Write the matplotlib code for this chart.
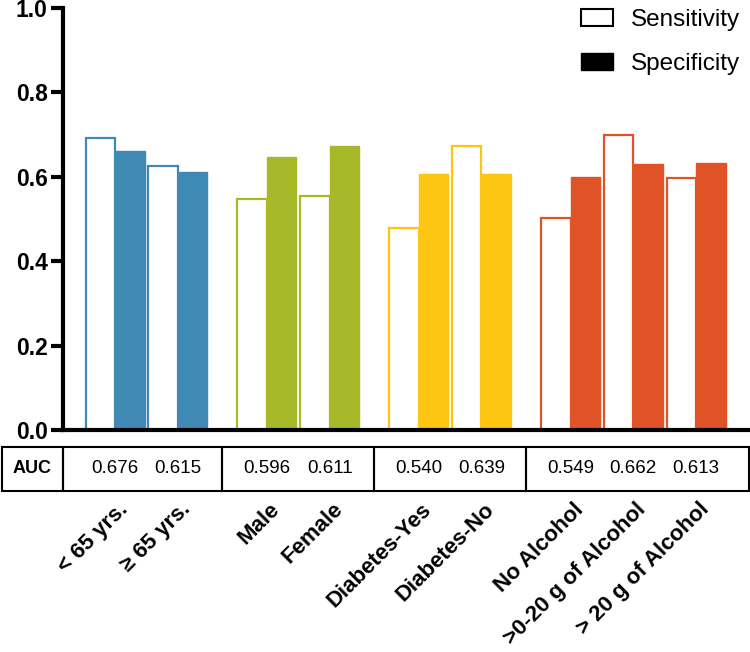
import numpy as np
import matplotlib
matplotlib.use('Agg')
from matplotlib import pyplot as plt
from matplotlib.patches import Patch, Rectangle
import matplotlib.transforms as mtransforms

plt.rcParams['font.family'] = ['Liberation Sans', 'DejaVu Sans']

# data
labels = ['< 65 yrs.', '\u2265 65 yrs.', 'Male', 'Female', 'Diabetes-Yes',
          'Diabetes-No', 'No Alcohol', '>0-20 g of Alcohol', '> 20 g of Alcohol']
groups = [0, 0, 1, 1, 2, 2, 3, 3, 3]
sensitivity = [0.693, 0.625, 0.547, 0.554, 0.478, 0.674, 0.502, 0.698, 0.596]
specificity = [0.660, 0.611, 0.648, 0.672, 0.606, 0.606, 0.599, 0.630, 0.633]
auc = ['0.676', '0.615', '0.596', '0.611', '0.540', '0.639', '0.549', '0.662', '0.613']
group_colors = ['#4089b4', '#a7b928', '#fec513', '#e05327']

gap = 0.42
x = np.arange(len(labels)) + gap * np.array(groups)
w = 0.47
xlim = (x[0] - 0.83, x[-1] + 0.86)

fig = plt.figure(figsize=(7.5, 6.52), dpi=100)
ax = fig.add_axes([63/750, 1 - 430/652, 1 - 63/750, 422/652])

for i in range(len(labels)):
    c = group_colors[groups[i]]
    ax.bar(x[i] - w/2, sensitivity[i], w, facecolor='white', edgecolor=c, linewidth=1.6)
    ax.bar(x[i] + w/2, specificity[i], w, facecolor=c, edgecolor=c, linewidth=1.0)

ax.set_xlim(*xlim)
ax.set_ylim(0, 1.0)
ax.set_yticks(np.arange(0, 1.01, 0.2))
ax.set_yticklabels([f'{v:.1f}' for v in np.arange(0, 1.01, 0.2)], fontsize=16.5, fontweight='bold')
ax.set_xticks([])
for s in ['top', 'right']:
    ax.spines[s].set_visible(False)
for s in ['left', 'bottom']:
    ax.spines[s].set_linewidth(3)
    ax.spines[s].set_capstyle('projecting')
ax.tick_params(axis='y', length=9, width=3, pad=2)

# AUC table below the axis
trans = mtransforms.blended_transform_factory(ax.transData, ax.transAxes)
t_top, t_bot = -0.040, -0.1445
edges = [xlim[0]]
for g in range(1, 4):
    last = x[np.array(groups) == g - 1][-1]
    first = x[np.array(groups) == g][0]
    edges.append((last + first) / 2)
edges.append(xlim[1] - 0.02)
for a, b in zip(edges[:-1], edges[1:]):
    ax.add_patch(Rectangle((a, t_bot), b - a, t_top - t_bot, transform=trans,
                           facecolor='none', edgecolor='black', linewidth=1.5, clip_on=False))
ax.add_patch(Rectangle((-0.0895, t_bot), 0.0895, t_top - t_bot, transform=ax.transAxes,
                       facecolor='none', edgecolor='black', linewidth=1.5, clip_on=False))
ax.text(-0.0895/2, (t_top + t_bot)/2, 'AUC', transform=ax.transAxes, ha='center', va='center',
        fontsize=13, fontweight='bold')
for i in range(len(labels)):
    ax.text(x[i], (t_top + t_bot)/2, auc[i], transform=trans, ha='center', va='center', fontsize=13.5)

# rotated category labels
for i in range(len(labels)):
    ax.text(x[i] + 0.22, -0.19, labels[i], transform=trans, ha='right', va='baseline',
            rotation=45, rotation_mode='anchor', fontsize=16, fontweight='bold')

handles = [Patch(facecolor='white', edgecolor='black', linewidth=1.5),
           Patch(facecolor='black', edgecolor='black')]
fig.legend(handles, ['Sensitivity', 'Specificity'], loc='upper right',
           bbox_to_anchor=(0.987, 0.986), bbox_transform=fig.transFigure,
           frameon=False, fontsize=17.5, handlelength=1.3, handleheight=0.65,
           handletextpad=0.75, labelspacing=0.9, borderpad=0, borderaxespad=0)

fig.savefig('out.png', dpi=100)
